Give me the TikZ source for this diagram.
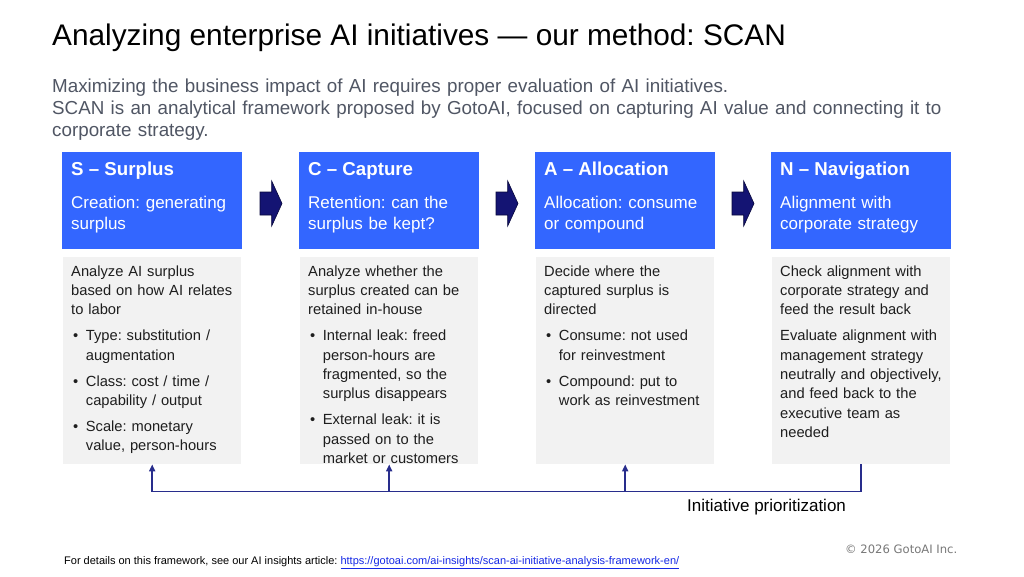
\documentclass[tikz,border=0pt]{standalone}
\usepackage{fontspec}
\setmainfont{Liberation Sans}
\newfontfamily\dejavu{DejaVu Sans}
\usetikzlibrary{calc,arrows.meta}
\definecolor{hblue}{RGB}{51,102,255}
\definecolor{gbox}{RGB}{242,242,242}
\definecolor{navy}{RGB}{20,20,115}
\definecolor{navyedge}{RGB}{8,8,60}
\definecolor{conn}{RGB}{40,45,140}
\definecolor{subgrey}{RGB}{80,86,100}
\definecolor{bodytxt}{RGB}{30,30,30}
\definecolor{linkblue}{RGB}{20,40,230}
\definecolor{copygrey}{RGB}{120,120,120}
\frenchspacing
\newcommand{\bul}[1]{\par\vspace{6.7pt}\noindent\hangindent=14.7pt\hangafter=1\makebox[14.7pt][l]{\hspace{2pt}•}#1\par}
\newcommand{\npar}[1]{\par\vspace{6.7pt}\noindent #1\par}
\begin{document}
\begin{tikzpicture}[x=1pt,y=-1pt,
  headbox/.style={fill=hblue, draw=none, minimum width=180pt, minimum height=97pt, anchor=north west, inner sep=0pt},
  bodybox/.style={fill=gbox, draw=none, minimum width=178pt, minimum height=207pt, anchor=north west, inner sep=0pt},
  htitle/.style={anchor=north west, inner sep=0pt, text=white, font=\bfseries\fontsize{18.7}{22}\selectfont},
  hsub/.style={anchor=north west, inner sep=0pt, text=white, text width=172pt, font=\fontsize{17}{20.5}\selectfont\raggedright},
  btext/.style={anchor=north west, inner sep=0pt, text=bodytxt, text width=172pt, font=\fontsize{14.7}{19.3}\selectfont\raggedright},
  barrow/.style={fill=navy, draw=navyedge, line width=0.6pt, line join=miter},
  connline/.style={draw=conn, line width=1.7pt},
  connarrow/.style={connline, -{Triangle[length=7pt,width=6pt]}},
]
\useasboundingbox (0,0) rectangle (1024,576);
\fill[white] (0,0) rectangle (1024,576);

% title and subtitle
\node[anchor=west, inner sep=0pt, font=\fontsize{29.8}{34}\selectfont] (title) at (52,38)
  {Analyzing enterprise AI initiatives — our method: SCAN};
\node[anchor=north west, inner sep=0pt, text=subgrey, text width=960pt,
  font=\fontsize{18.8}{21.6}\selectfont\raggedright] (subtitle) at (52,79)
  {Maximizing the business impact of AI requires proper evaluation of AI initiatives.\newline
   SCAN is an analytical framework proposed by GotoAI, focused on capturing AI value and connecting it to\newline
   corporate strategy.};

% header boxes
\node[headbox] (shead) at (62,152) {};
\node[headbox] (chead) at (299,152) {};
\node[headbox] (ahead) at (535,152) {};
\node[headbox] (nhead) at (771,152) {};

\node[htitle] (stitle) at (71,162) {S – Surplus};
\node[htitle] (ctitle) at (308,162) {C – Capture};
\node[htitle] (atitle) at (544,162) {A – Allocation};
\node[htitle] (ntitle) at (780,162) {N – Navigation};

\node[hsub] (ssub) at (71,196) {Creation: generating\newline surplus};
\node[hsub] (csub) at (308,196) {Retention: can the\newline surplus be kept?};
\node[hsub] (asub) at (544,196) {Allocation: consume\newline or compound};
\node[hsub] (nsub) at (780,196) {Alignment with\newline corporate strategy};

% block arrows
\foreach \x in {271,507,743}{
  \draw[barrow] (\x-11,192) -- (\x+0.7,192) -- (\x+0.7,181) -- (\x+11,203.5)
    -- (\x+0.7,226) -- (\x+0.7,215) -- (\x-11,215) -- cycle;
}

% body boxes
\node[bodybox] (sbody) at (63,257) {};
\node[bodybox] (cbody) at (300,257) {};
\node[bodybox] (abody) at (536,257) {};
\node[bodybox] (nbody) at (772,257) {};

\node[btext] (stext) at (71,265.5) {%
  \noindent Analyze AI surplus\newline based on how AI relates\newline to labor
  \bul{Type: substitution /\newline augmentation}
  \bul{Class: cost / time /\newline capability / output}
  \bul{Scale: monetary\newline value, person-hours}};
\node[btext] (ctext) at (308,265.5) {%
  \noindent Analyze whether the\newline surplus created can be\newline retained in-house
  \bul{Internal leak: freed\newline person-hours are\newline fragmented, so the\newline surplus disappears}
  \bul{External leak: it is\newline passed on to the\newline market or customers}};
\node[btext] (atext) at (544,265.5) {%
  \noindent Decide where the\newline captured surplus is\newline directed
  \bul{Consume: not used\newline for reinvestment}
  \bul{Compound: put to\newline work as reinvestment}};
\node[btext] (ntext) at (780,265.5) {%
  \noindent Check alignment with\newline corporate strategy and\newline feed the result back
  \npar{Evaluate alignment with\newline management strategy\newline neutrally and objectively,\newline and feed back to the\newline executive team as\newline needed}};

% feedback connectors
\coordinate (busS) at ($(sbody.south)+(0,27)$);
\coordinate (busC) at ($(cbody.south)+(0,27)$);
\coordinate (busA) at ($(abody.south)+(0,27)$);
\coordinate (busN) at ($(nbody.south)+(0,27)$);
\draw[connarrow] (nbody.south) -- (busN) -- (busS) -- (sbody.south);
\draw[connarrow] (busC) -- (cbody.south);
\draw[connarrow] (busA) -- (abody.south);
\node[anchor=west, inner sep=0pt, font=\fontsize{17}{20}\selectfont] (prio) at (687,507)
  {Initiative prioritization};

% footer
\node[anchor=west, inner sep=0pt, font=\fontsize{11}{13}\selectfont] (footer) at (64,563)
  {For details on this framework, see our AI insights article: \textcolor{linkblue}{\underline{https://gotoai.com/ai-insights/scan-ai-initiative-analysis-framework-en/}}};
\node[anchor=west, inner sep=0pt, text=copygrey, font=\dejavu\fontsize{11.6}{14}\selectfont] (copy) at (845,549)
  {© 2026 GotoAI Inc.};
\end{tikzpicture}
\end{document}
